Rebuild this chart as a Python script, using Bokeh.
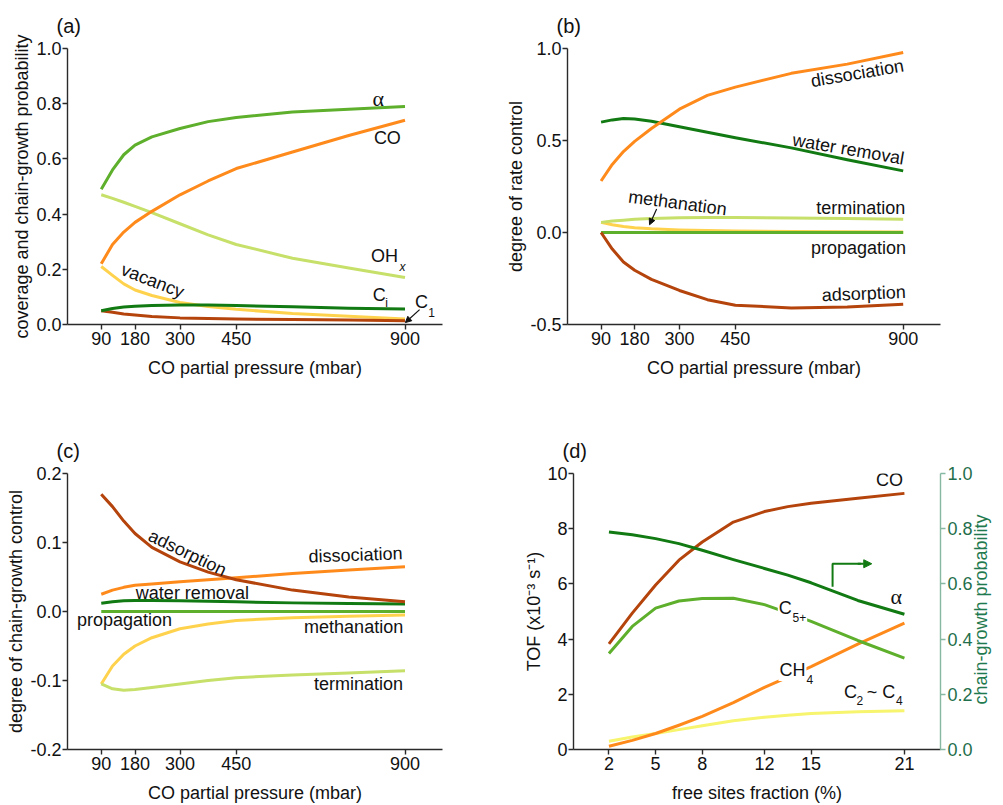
import math
from bokeh.plotting import figure
from bokeh.layouts import row, column
from bokeh.models import (Label, Arrow, NormalHead, FixedTicker, NumeralTickFormatter,
                          LinearAxis, Range1d)
from bokeh.embed import file_html
from bokeh.resources import INLINE

# ---------------- data ----------------
# panels (a)-(c): CO partial pressure (mbar)
p_co = [90, 120, 150, 180, 225, 300, 375, 450, 600, 750, 900]
x_ticks_p = [90, 180, 300, 450, 900]

# (a) coverage and chain-growth probability
a_alpha = [0.49, 0.56, 0.615, 0.65, 0.68, 0.71, 0.735, 0.75, 0.77, 0.78, 0.79]
a_co = [0.22, 0.29, 0.335, 0.37, 0.41, 0.47, 0.52, 0.565, 0.625, 0.685, 0.74]
a_ohx = [0.47, 0.457, 0.443, 0.428, 0.405, 0.365, 0.325, 0.29, 0.24, 0.205, 0.17]
a_vacancy = [0.21, 0.178, 0.147, 0.125, 0.105, 0.08, 0.065, 0.055, 0.04, 0.03, 0.02]
a_ci = [0.05, 0.058, 0.063, 0.066, 0.069, 0.071, 0.071, 0.069, 0.064, 0.059, 0.056]
a_c1 = [0.05, 0.044, 0.038, 0.034, 0.029, 0.024, 0.022, 0.02, 0.018, 0.016, 0.014]

# (b) degree of rate control
b_dissociation = [0.28, 0.37, 0.44, 0.495, 0.565, 0.67, 0.745, 0.79, 0.865, 0.915, 0.978]
b_water = [0.60, 0.612, 0.62, 0.617, 0.605, 0.575, 0.545, 0.515, 0.46, 0.395, 0.335]
b_termination = [0.055, 0.062, 0.067, 0.072, 0.076, 0.08, 0.081, 0.081, 0.079, 0.076, 0.072]
b_methanation = [0.055, 0.042, 0.033, 0.026, 0.02, 0.014, 0.011, 0.008, 0.006, 0.004, 0.003]
b_propagation = [0.0, 0.0, 0.0, 0.0, 0.0, 0.0, 0.0, 0.0, 0.0, 0.0, 0.0]
b_adsorption = [0.0, -0.09, -0.16, -0.205, -0.255, -0.315, -0.365, -0.395, -0.41, -0.405, -0.39]

# (c) degree of chain-growth control
c_adsorption = [0.17, 0.152, 0.131, 0.113, 0.093, 0.072, 0.057, 0.046, 0.031, 0.021, 0.014]
c_dissociation = [0.025, 0.031, 0.035, 0.038, 0.040, 0.043, 0.046, 0.049, 0.055, 0.060, 0.065]
c_water = [0.012, 0.014, 0.0155, 0.016, 0.016, 0.0155, 0.015, 0.014, 0.0125, 0.0115, 0.011]
c_propagation = [0.0, 0.0, 0.0, 0.0, 0.0, 0.0, 0.0, 0.0, 0.0, 0.0, 0.0]
c_methanation = [-0.105, -0.079, -0.062, -0.050, -0.038, -0.025, -0.018, -0.013, -0.009, -0.007, -0.005]
c_termination = [-0.105, -0.112, -0.114, -0.113, -0.110, -0.105, -0.100, -0.096, -0.092, -0.089, -0.086]

# (d) TOF vs free sites fraction (%)
free_sites = [2, 3.5, 5, 6.5, 8, 10, 12, 13.5, 15, 18, 21]
x_ticks_d = [2, 5, 8, 12, 15, 21]
d_co = [3.83, 4.94, 5.96, 6.86, 7.52, 8.24, 8.62, 8.80, 8.92, 9.10, 9.28]
d_c5 = [3.48, 4.46, 5.12, 5.38, 5.47, 5.48, 5.25, 4.95, 4.64, 3.95, 3.31]
d_ch4 = [0.12, 0.33, 0.58, 0.88, 1.20, 1.70, 2.25, 2.62, 3.00, 3.82, 4.58]
d_c24 = [0.30, 0.45, 0.58, 0.72, 0.86, 1.04, 1.17, 1.24, 1.30, 1.37, 1.40]
d_alpha = [0.788, 0.778, 0.764, 0.746, 0.722, 0.688, 0.656, 0.632, 0.604, 0.54, 0.49]

# ---------------- style ----------------
FONT = "Liberation Sans"
SERIF = "Liberation Serif"
TXT = "#111111"
AX = "#2a2a2a"
BROWN = "#B4440C"
ORANGE = "#FF8A1C"
DKGREEN = "#127A12"
MDGREEN = "#5EAF2C"
LTGREEN = "#C6E06A"
YELLOW = "#FFD24E"
LTYELLOW = "#F7F46E"
RAX_LINE = "#86B8A2"
RAX_TXT = "#1F6F4C"
LW = 3


def style_axis(ax, line=AX, txt=TXT):
    ax.axis_line_color = line
    ax.axis_line_width = 1.4
    ax.major_tick_line_color = line
    ax.major_tick_line_width = 1.4
    ax.major_tick_in = 0
    ax.major_tick_out = 5
    ax.minor_tick_line_color = None
    ax.major_label_text_font = FONT
    ax.major_label_text_font_size = "18px"
    ax.major_label_text_color = txt
    ax.axis_label_text_font = FONT
    ax.axis_label_text_font_size = "18px"
    ax.axis_label_text_font_style = "normal"
    ax.axis_label_text_color = txt


def make_fig(w, h, bl, br, bt, bb, xr, yr, xt, yt, yfmt, title, xlabel,
             ylabel, ystand):
    p = figure(width=w, height=h, x_range=Range1d(*xr), y_range=Range1d(*yr),
               output_backend="svg", toolbar_location=None,
               min_border_left=bl, min_border_right=br,
               min_border_top=bt, min_border_bottom=bb)
    p.grid.visible = False
    p.outline_line_color = None
    p.background_fill_color = "white"
    p.border_fill_color = "white"
    p.title.text = title
    p.title.text_font = FONT
    p.title.text_font_size = "20px"
    p.title.text_font_style = "normal"
    p.title.text_color = TXT
    p.title.align = "left"
    p.title.offset = -11
    p.title.standoff = 24
    style_axis(p.xaxis[0])
    style_axis(p.yaxis[0])
    p.xaxis[0].ticker = FixedTicker(ticks=xt)
    p.xaxis[0].major_label_standoff = 2
    p.xaxis[0].axis_label = xlabel
    p.xaxis[0].axis_label_standoff = 10
    p.yaxis[0].ticker = FixedTicker(ticks=yt)
    p.yaxis[0].formatter = NumeralTickFormatter(format=yfmt)
    p.yaxis[0].major_label_standoff = 1
    p.yaxis[0].axis_label = ylabel
    p.yaxis[0].axis_label_standoff = ystand
    return p


def curve(p, x, y, color, **kw):
    p.line(x, y, line_color=color, line_width=LW, line_join="round", **kw)


def lab(p, x, y, text, size="18px", angle=0.0, font=FONT, style="normal",
        color=TXT, align="center", bg=None):
    l = Label(x=x, y=y, text=text, text_font=font, text_font_size=size,
              text_font_style=style, text_color=color, angle=angle,
              text_align=align, text_baseline="middle")
    if bg is not None:
        l.background_fill_color = bg
        l.padding = 1
    p.add_layout(l)
    return l


XLAB = "CO partial pressure (mbar)"

# ---------------- panel (a) ----------------
pa = make_fig(490, 400, 67, 48, 47, 76, (0, 1000), (0, 1.0), x_ticks_p,
              [0, 0.2, 0.4, 0.6, 0.8, 1.0], "0.0", "(a)", XLAB,
              "coverage and chain-growth probability", 1)
curve(pa, p_co, a_vacancy, YELLOW)
curve(pa, p_co, a_c1, BROWN)
curve(pa, p_co, a_ci, DKGREEN)
curve(pa, p_co, a_ohx, LTGREEN)
curve(pa, p_co, a_co, ORANGE)
curve(pa, p_co, a_alpha, MDGREEN)
lab(pa, 829, 0.82, "α", size="22px", font=SERIF)
lab(pa, 853, 0.675, "CO")
lab(pa, 845, 0.249, "OH")
lab(pa, 893, 0.209, "x", size="12px", style="italic")
lab(pa, 227, 0.159, "vacancy", angle=-0.37)
lab(pa, 831, 0.108, "C")
lab(pa, 851, 0.079, "i", size="12px")
lab(pa, 944, 0.083, "C")
lab(pa, 971, 0.043, "1", size="12px")
pa.add_layout(Arrow(x_start=939, y_start=0.054, x_end=901, y_end=0.007,
                    line_color=TXT, line_width=1.2,
                    end=NormalHead(size=6, fill_color=TXT, line_color=TXT)))

# ---------------- panel (b) ----------------
pb = make_fig(513, 400, 77, 63, 47, 76, (0, 1000), (-0.5, 1.0), x_ticks_p,
              [-0.5, 0.0, 0.5, 1.0], "0.0", "(b)", XLAB,
              "degree of rate control", 1)
curve(pb, p_co, b_methanation, YELLOW)
curve(pb, p_co, b_termination, LTGREEN)
curve(pb, p_co, b_propagation, MDGREEN)
curve(pb, p_co, b_adsorption, BROWN)
curve(pb, p_co, b_water, DKGREEN)
curve(pb, p_co, b_dissociation, ORANGE)
lab(pb, 777, 0.865, "dissociation", angle=0.17)
lab(pb, 753, 0.453, "water removal", angle=-0.17)
lab(pb, 786, 0.134, "termination")
lab(pb, 295, 0.161, "methanation", angle=-0.13)
pb.add_layout(Arrow(x_start=239, y_start=0.128, x_end=220, y_end=0.042,
                    line_color=TXT, line_width=1.2,
                    end=NormalHead(size=6, fill_color=TXT, line_color=TXT)))
lab(pb, 780, -0.083, "propagation")
lab(pb, 794, -0.332, "adsorption", angle=0.04)

# ---------------- panel (c) ----------------
pc = make_fig(490, 405, 67, 48, 73, 54, (0, 1000), (-0.2, 0.2), x_ticks_p,
              [-0.2, -0.1, 0.0, 0.1, 0.2], "0.0", "(c)", XLAB,
              "degree of chain-growth control", 1)
curve(pc, p_co, c_methanation, YELLOW)
curve(pc, p_co, c_termination, LTGREEN)
curve(pc, p_co, c_propagation, MDGREEN)
curve(pc, p_co, c_water, DKGREEN)
curve(pc, p_co, c_dissociation, ORANGE)
curve(pc, p_co, c_adsorption, BROWN)
lab(pc, 320, 0.085, "adsorption", angle=-0.45)
lab(pc, 768, 0.082, "dissociation", angle=0.035)
lab(pc, 333, 0.027, "water removal")
lab(pc, 152, -0.013, "propagation")
lab(pc, 763, -0.022, "methanation")
lab(pc, 776, -0.105, "termination")

# ---------------- panel (d) ----------------
pd_ = make_fig(513, 405, 83, 56, 73, 54, (-0.28, 23.32), (0, 10), x_ticks_d,
               [0, 2, 4, 6, 8, 10], "0", "(d)", "free sites fraction (%)",
               "TOF (x10\u207b\u00b3 s\u207b\u00b9)", 0)
pd_.extra_y_ranges = {"prob": Range1d(0, 1.0)}
rax = LinearAxis(y_range_name="prob")
style_axis(rax, line=RAX_LINE, txt=RAX_TXT)
rax.ticker = FixedTicker(ticks=[0, 0.2, 0.4, 0.6, 0.8, 1.0])
rax.formatter = NumeralTickFormatter(format="0.0")
rax.major_label_standoff = 2
rax.axis_label_standoff = 5
rax.axis_label_text_color = "#1F7A4F"
RLAB = "chain-growth probability"
if hasattr(rax, "axis_label_orientation") and hasattr(rax, "axis_label_align"):
    rax.axis_label_orientation = math.pi / 2
    rax.axis_label_align = "start"
    rax.axis_label = "\u00a0" * 9 + RLAB
else:
    rax.axis_label = RLAB
pd_.add_layout(rax, "right")
curve(pd_, free_sites, d_c24, LTYELLOW)
curve(pd_, free_sites, d_ch4, ORANGE)
curve(pd_, free_sites, d_c5, MDGREEN)
curve(pd_, free_sites, d_co, BROWN)
curve(pd_, free_sites, d_alpha, DKGREEN, y_range_name="prob")
lab(pd_, 20.04, 9.75, "CO")
lab(pd_, 20.48, 5.54, "α", size="22px", font=SERIF)
lab(pd_, 13.34, 5.14, "C", bg="white")
lab(pd_, 14.24, 4.78, "5+", size="12px", bg="white")
lab(pd_, 13.8, 2.88, "CH", bg="white")
lab(pd_, 14.92, 2.55, "4", size="12px", bg="white")
lab(pd_, 17.54, 2.09, "C")
lab(pd_, 18.14, 1.76, "2", size="12px")
lab(pd_, 18.58, 2.09, "~ C", align="left")
lab(pd_, 20.67, 1.76, "4", size="12px")
pd_.line([16.38, 16.38, 18.2], [5.9, 6.73, 6.73], line_color=DKGREEN, line_width=2)
pd_.add_layout(Arrow(x_start=18.0, y_start=6.73, x_end=18.9, y_end=6.73,
                     line_color=DKGREEN, line_width=2,
                     end=NormalHead(size=8, fill_color=DKGREEN, line_color=DKGREEN)))

layout = column(row(pa, pb), row(pc, pd_))
open("out.html", "w").write(file_html(layout, INLINE))
